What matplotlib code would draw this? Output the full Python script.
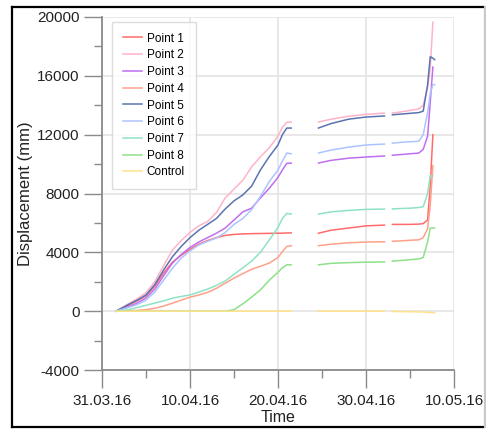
import numpy as np
import matplotlib
matplotlib.use("Agg")
import matplotlib.pyplot as plt
import matplotlib.dates as mdates
from matplotlib.lines import Line2D

plt.rcParams["font.family"] = ["Liberation Sans", "DejaVu Sans"]

# Days since 31.03.16; NaN separates the measurement campaigns
days = [1.6, 3, 4, 5, 6, 7, 8, 9, 10, 11, 12, 13, 14, 15, 16, 17, 18, 19, 20, 20.5, 21, 21.5,
        np.nan,
        24.6, 26, 28, 30, 32.1,
        np.nan,
        33.0, 34, 35, 36, 36.5, 37, 37.3, 37.6, 37.8]

nan = np.nan
point1 = [0, 400, 700, 1050, 1700, 2600, 3330, 3800, 4200, 4550, 4800, 5000, 5150, 5220, 5250, 5270, 5280, 5290, 5300, 5300, 5320, 5320,
          nan, 5300, 5500, 5650, 5800, 5850,
          nan, 5900, 5900, 5900, 5920, 5950, 6200, 8500, 12000, nan]
point2 = [0, 500, 850, 1250, 2000, 3100, 4150, 4800, 5350, 5800, 6100, 6700, 7700, 8300, 8900, 9800, 10500, 11100, 11900, 12500, 12850, 12850,
          nan, 12860, 13050, 13250, 13380, 13470,
          nan, 13470, 13550, 13650, 13750, 14000, 15200, 16500, 19650, nan]
point3 = [0, 300, 550, 900, 1500, 2400, 3270, 3850, 4330, 4700, 5000, 5300, 5650, 6200, 6750, 7000, 7700, 8350, 9100, 9600, 10050, 10070,
          nan, 10070, 10250, 10400, 10480, 10550,
          nan, 10600, 10650, 10700, 10750, 11000, 11900, 14200, 16600, nan]
point4 = [0, 20, 50, 100, 200, 350, 540, 750, 950, 1100, 1280, 1550, 1900, 2250, 2550, 2850, 3050, 3270, 3650, 4050, 4400, 4450,
          nan, 4450, 4550, 4650, 4700, 4720,
          nan, 4750, 4780, 4820, 4850, 5000, 5600, 7200, 9900, nan]
point5 = [0, 450, 750, 1100, 1800, 2800, 3700, 4400, 5000, 5500, 5900, 6300, 6950, 7500, 7900, 8500, 9600, 10500, 11300, 12000, 12450, 12450,
          nan, 12450, 12750, 13050, 13200, 13270,
          nan, 13350, 13400, 13450, 13500, 13600, 15400, 17300, 17200, 17100]
point6 = [0, 250, 450, 750, 1300, 2100, 2920, 3600, 4100, 4500, 4750, 4970, 5350, 5900, 6300, 6900, 7800, 8800, 9600, 10200, 10750, 10700,
          nan, 10750, 10950, 11150, 11300, 11360,
          nan, 11420, 11480, 11520, 11550, 12000, 13500, 14800, 15400, 15400]
point7 = [0, 100, 250, 400, 550, 700, 880, 1000, 1100, 1300, 1500, 1750, 2050, 2500, 2950, 3400, 4000, 4830, 5700, 6300, 6650, 6600,
          nan, 6600, 6750, 6850, 6920, 6940,
          nan, 6950, 6980, 7000, 7050, 7100, 8000, 9200, 9200, nan]
point8 = [0, 0, 0, 0, 0, 0, 0, 0, 0, 0, 0, 0, 0, 100, 500, 950, 1450, 2100, 2650, 2950, 3150, 3150,
          nan, 3150, 3250, 3300, 3330, 3350,
          nan, 3400, 3450, 3500, 3550, 3650, 4700, 5650, 5650, 5650]
control = [0] * 22 + [nan, 0, 0, 0, 0, -10,
                      nan, -20, -30, -40, -50, -60, -80, -90, -100, -100]

series = [("Point 1", point1, "#ff6b6b"),
          ("Point 2", point2, "#ffb3c9"),
          ("Point 3", point3, "#c06ef0"),
          ("Point 4", point4, "#ffa08a"),
          ("Point 5", point5, "#5b74b0"),
          ("Point 6", point6, "#adc4ff"),
          ("Point 7", point7, "#8fe3c3"),
          ("Point 8", point8, "#8ee08a"),
          ("Control", control, "#ffe28a")]

tick_dates = ["2016-03-31", "2016-04-10", "2016-04-20", "2016-04-30", "2016-05-10"]
tick_labels = ["31.03.16", "10.04.16", "20.04.16", "30.04.16", "10.05.16"]
y_ticks = [-4000, 0, 4000, 8000, 12000, 16000, 20000]

origin = mdates.date2num(np.datetime64("2016-03-31"))
x = origin + np.asarray(days, dtype=float)

fig = plt.figure(figsize=(4.86, 4.29), dpi=100)
ax = fig.add_axes([102 / 486, 1 - 370 / 429, 352 / 486, 353 / 429])

for name, vals, col in series:
    ax.plot(x, vals, color=col, lw=1.1, label=name)

xt = mdates.date2num(np.array(tick_dates, dtype="datetime64[D]"))
ax.set_xlim(xt[0], xt[-1])
ax.set_ylim(-4000, 20000)
ax.set_xticks(xt, tick_labels)
ax.set_xticks(xt[:-1] + 5, minor=True)
ax.set_yticks(y_ticks, [str(v) for v in y_ticks])
ax.set_yticks(np.array(y_ticks[:-1]) + 2000, minor=True)

grid_c = "#e2e2e2"
ax.grid(True, which="major", color=grid_c, lw=1.1)
ax.set_axisbelow(True)
for s in ["top", "right"]:
    ax.spines[s].set_visible(False)
for s in ["left", "bottom"]:
    ax.spines[s].set_color("#8a8a8a")
    ax.spines[s].set_linewidth(1.3)

ax.tick_params(which="major", length=13, width=1.0, color="#8a8a8a",
               labelsize=11, labelcolor="#222222", pad=4)
ax.tick_params(axis="y", which="major", pad=3)
ax.tick_params(which="minor", length=6, width=1.0, color="#8a8a8a")

ax.set_xlabel("Time", fontsize=11.5, color="#222222", labelpad=2)
ax.set_ylabel("Displacement (mm)", fontsize=12, color="#222222", labelpad=3)

leg = ax.legend(loc="upper left", bbox_to_anchor=(10 / 352, 348 / 353),
                fontsize=8.5, frameon=True, fancybox=False,
                handlelength=1.6, handletextpad=0.45, labelspacing=0.4,
                borderpad=0.9, borderaxespad=0)
leg.get_frame().set_edgecolor("#d4d4d4")
leg.get_frame().set_linewidth(1.0)

# Outer frame of the figure
W, H = 486, 429
def fline(x0, y0, x1, y1, c):
    fig.add_artist(Line2D([x0 / W, x1 / W], [1 - y0 / H, 1 - y1 / H],
                          transform=fig.transFigure, color=c, lw=1.6))
fline(12, 7, 484, 7, "black")
fline(12, 7, 12, 427, "black")
fline(12, 427, 484, 427, "black")
fline(484.5, 7, 484.5, 427, "#c8c8c8")

fig.savefig("out.png", dpi=100)
